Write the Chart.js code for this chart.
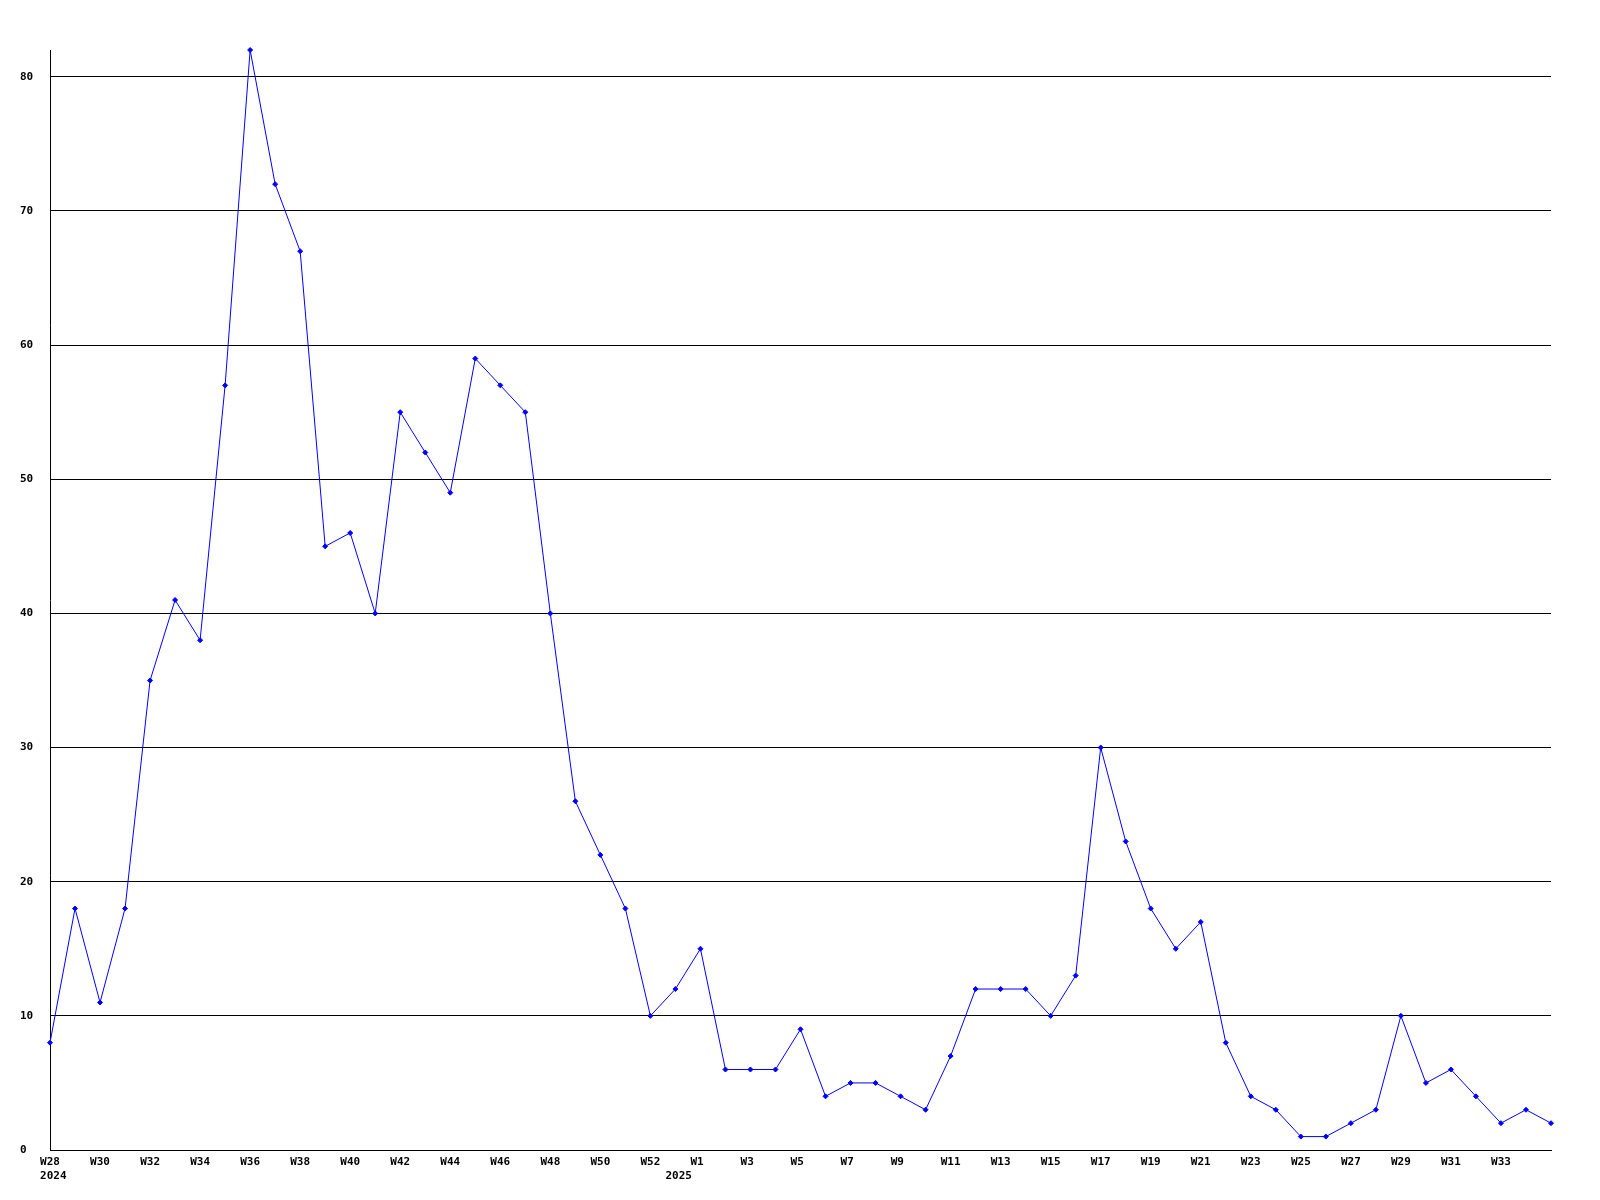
<!DOCTYPE html>
<html>
<head>
<meta charset="utf-8">
<script src="https://cdn.jsdelivr.net/npm/chart.js@4/dist/chart.umd.min.js"></script>
<style>
  html,body{margin:0;padding:0;background:#fff}
  #wrap{width:1600px;height:1200px}
</style>
</head>
<body>
<div id="wrap"><canvas id="grafico" width="1600" height="1200"></canvas></div>
<script>
// semanas (2024: W28..W53, 2025: W1..W35)
const weeks = ['W28','W29','W30','W31','W32','W33','W34','W35','W36','W37','W38','W39','W40','W41','W42','W43','W44','W45','W46','W47','W48','W49','W50','W51','W52','W53',
  'W1','W2','W3','W4','W5','W6','W7','W8','W9','W10','W11','W12','W13','W14','W15','W16','W17','W18','W19','W20','W21','W22','W23','W24','W25','W26','W27','W28','W29','W30','W31','W32','W33','W34','W35']
// etiquetas de año, por indice
const yearLabels = {0:'2024', 25:'2025'}
const counts = [8,18,11,18,35,41,38,57,82,72,67,45,46,40,55,52,49,59,57,55,40,26,22,18,10,12,
  15,6,6,6,9,4,5,5,4,3,7,12,12,12,10,13,30,23,18,15,17,8,4,3,1,1,2,3,10,5,6,4,2,3,2]
const yMax = 82
const yStep = 10

Chart.defaults.font.family = '"DejaVu Sans Mono", monospace'
Chart.defaults.font.size = 11
Chart.defaults.font.weight = 'bold'
Chart.defaults.color = '#000'

// etiqueta del eje x: cada 2 semanas, alineada a la izquierda del tick (monoespaciada)
// la ultima semana no lleva etiqueta
const xLabel = (i) => {
  const lines = []
  const show = i % 2 === 0 && i < weeks.length - 1
  lines.push(show ? weeks[i].padEnd(3, ' ') : '')
  if (yearLabels[i] !== undefined) lines.push(' ' + yearLabels[i])
  return lines.length === 1 ? lines[0] : lines
}

const data = {
  labels: weeks,
  datasets: [{
    data: counts,
    borderColor: '#0000ff',
    backgroundColor: '#0000ff',
    borderWidth: 1,
    tension: 0,
    clip: false,
    pointStyle: 'rectRot',
    pointRadius: 2.5,
    pointHoverRadius: 2.5,
    pointBorderWidth: 1
  }]
}

const options = {
  responsive: false,
  maintainAspectRatio: false,
  animation: false,
  layout: { padding: { top: 50, right: 49, left: 20, bottom: 0 } },
  plugins: { legend: { display: false }, tooltip: { enabled: false } },
  scales: {
    x: {
      grid: { display: false, drawTicks: false },
      border: { color: '#000', width: 1 },
      ticks: {
        autoSkip: false,
        maxRotation: 0,
        minRotation: 0,
        padding: 6,
        callback: (v, i) => xLabel(i)
      },
      afterFit: s => { s.height = 50 }
    },
    y: {
      min: 0,
      max: yMax,
      grid: { color: '#000', lineWidth: 1, drawTicks: false },
      border: { color: '#000', width: 1 },
      ticks: {
        stepSize: yStep,
        includeBounds: false,
        crossAlign: 'far',
        padding: 17
      },
      afterFit: s => { s.width = 30 }
    }
  }
}

new Chart('grafico', { type: 'line', data, options })
</script>
</body>
</html>
